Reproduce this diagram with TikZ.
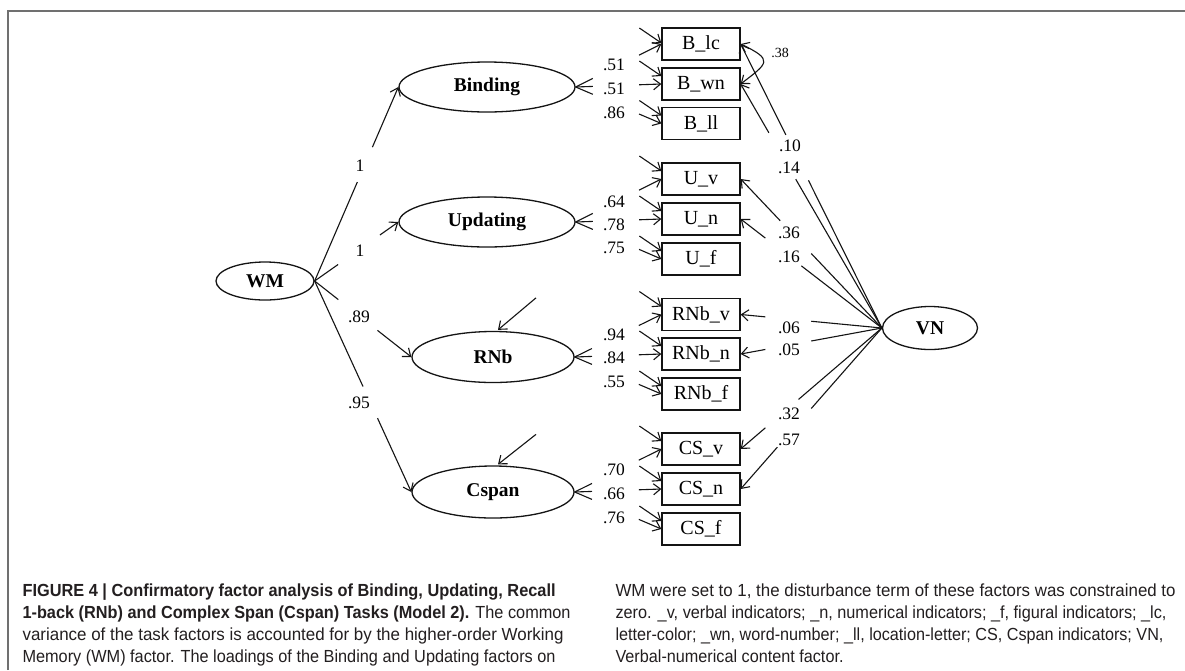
\documentclass[tikz,border=0pt]{standalone}
\usepackage{graphicx}
\usepackage{fontspec}
\setmainfont{Liberation Serif}
\newfontfamily\capfont{Liberation Sans}
\usetikzlibrary{arrows.meta,calc,shapes.geometric}
\definecolor{ink}{HTML}{141414}
\definecolor{rulegray}{HTML}{707070}
\definecolor{captxt}{HTML}{231F20}
\begin{document}
\begin{tikzpicture}[x=1pt,y=-1pt,
  line width=1.1pt, draw=ink,
  latent/.style={ellipse,draw=ink,line width=1.3pt,inner sep=0pt,
    font=\fontsize{19.5}{22}\selectfont\bfseries},
  obs/.style={rectangle,draw=ink,line width=1.3pt,minimum width=78pt,
    minimum height=32pt,inner sep=0pt,font=\fontsize{20}{24}\selectfont},
  coef/.style={inner sep=0pt,font=\fontsize{17.5}{20}\selectfont},
  smallcoef/.style={inner sep=0pt,font=\fontsize{14}{17}\selectfont},
  tip/.tip={Straight Barb[length=7pt,width=11pt,line width=1.1pt]},
  arr/.style={-tip},
  caption/.style={anchor=base west,inner sep=0pt,text=captxt,
    font=\capfont\fontsize{17.5}{22}\selectfont},
]
\useasboundingbox (0,0) rectangle (1185,670);
\fill[white] (0,0) rectangle (1185,670);
% frame rules
\draw[rulegray,line width=1.2pt] (8,670) -- (8,11) -- (1185,11);

% latent factors
\node[latent,minimum width=98pt,minimum height=38pt] (WM) at (265,281) {WM};
\node[latent,minimum width=176pt,minimum height=50pt] (Bind) at (487,87) {Binding};
\node[latent,minimum width=176pt,minimum height=50pt] (Upd) at (487,222) {Updating};
\node[latent,minimum width=162pt,minimum height=51pt] (RNb) at (493,357) {RNb};
\node[latent,minimum width=162pt,minimum height=52pt] (Csp) at (493,492) {Cspan};
\node[latent,minimum width=95pt,minimum height=43pt] (VN) at (930,328) {VN};

% observed indicators
\node[obs] (Blc) at (701,44) {B\_lc};
\node[obs] (Bwn) at (701,84) {B\_wn};
\node[obs] (Bll) at (701,123.5) {B\_ll};
\node[obs] (Uv) at (701,179) {U\_v};
\node[obs] (Un) at (701,219) {U\_n};
\node[obs] (Uf) at (701,259) {U\_f};
\node[obs] (RNbv) at (701,314.5) {RNb\_v};
\node[obs] (RNbn) at (701,354) {RNb\_n};
\node[obs] (RNbf) at (701,394) {RNb\_f};
\node[obs] (CSv) at (701,449) {CS\_v};
\node[obs] (CSn) at (701,489) {CS\_n};
\node[obs] (CSf) at (701,529) {CS\_f};

% higher-order loadings (broken around their values)
\foreach \dst/\a/\b in {Bind/0.51/0.69, Upd/0.28/0.78, RNb/0.245/0.65, Csp/0.5/0.65} {
  \draw (WM.east) -- ($(WM.east)!\a!(\dst.west)$);
  \draw[arr] ($(WM.east)!\b!(\dst.west)$) -- (\dst.west);
}
\node[coef] (wBind) at (360,166) {1};
\node[coef] (wUpd) at (360,251) {1};
\node[coef] (wRNb) at (359,317) {.89};
\node[coef] (wCsp) at (359,403) {.95};

% disturbances of RNb and Cspan
\draw[arr] ($(RNb.north)+(43,-33)$) -- ($(RNb.north)+(5,-1)$);
\draw[arr] ($(Csp.north)+(43,-31)$) -- ($(Csp.north)+(5,-1)$);

% task factor loadings
\foreach \src/\dst in {Bind/Blc,Bind/Bwn,Bind/Bll,Upd/Uv,Upd/Un,Upd/Uf,
    RNb/RNbv,RNb/RNbn,RNb/RNbf,Csp/CSv,Csp/CSn,Csp/CSf} {
  \draw (\src.east) -- ($(\src.east)!0.2!(\dst.west)$);
  \draw[arr] ($(\src.east)!0.74!(\dst.west)$) -- (\dst.west);
}
\node[coef] (lBlc) at (614,65) {.51};
\node[coef] (lBwn) at (614,89) {.51};
\node[coef] (lBll) at (614,113) {.86};
\node[coef] (lUv) at (614,202) {.64};
\node[coef] (lUn) at (614,225) {.78};
\node[coef] (lUf) at (614,248) {.75};
\node[coef] (lRNbv) at (614,335) {.94};
\node[coef] (lRNbn) at (614,358) {.84};
\node[coef] (lRNbf) at (614,382) {.55};
\node[coef] (lCSv) at (614,470) {.70};
\node[coef] (lCSn) at (614,494) {.66};
\node[coef] (lCSf) at (614,518) {.76};

% measurement errors
\draw[arr] ($(Blc.west)+(-22,-16)$) -- ($(Blc.west)+(0,-1)$);
\foreach \dst in {Bwn,Bll,Uv,Un,Uf,RNbv,RNbn,RNbf,CSv,CSn,CSf} {
  \draw[arr] ($(\dst.west)+(-22,-23)$) -- ($(\dst.west)+(0,-8)$);
}

% correlated errors of B_lc and B_wn
\draw[tip-tip] (Blc.east) .. controls (774,60) and (768,63) .. (Bwn.east);
\node[smallcoef] (cBB) at (780,53) {.38};

% content factor loadings
\foreach \dst/\a/\b in {Blc/0.32/0.48, Bwn/0.2/0.39, Uv/0.28/0.5, Un/0.175/0.43,
    RNbv/0.175/0.5, RNbn/0.175/0.5, CSv/0.175/0.41, CSn/0.26/0.5} {
  \draw[arr] ($(\dst.east)!\a!(VN.west)$) -- (\dst.east);
  \draw ($(\dst.east)!\b!(VN.west)$) -- (VN.west);
}
\node[coef] (vBlc) at (790,146) {.10};
\node[coef] (vBwn) at (789,168) {.14};
\node[coef] (vUv) at (789,233) {.36};
\node[coef] (vUn) at (789,257) {.16};
\node[coef] (vRNbv) at (789,328) {.06};
\node[coef] (vRNbn) at (789,350) {.05};
\node[coef] (vCSv) at (789,414) {.32};
\node[coef] (vCSn) at (789,440) {.57};

% caption
\node[caption] (capL1) at (22,596) {\resizebox{533pt}{\height}{{\bfseries FIGURE 4 | Confirmatory factor analysis of Binding, Updating, Recall}}};
\node[caption] (capL2) at (22,618) {\resizebox{548pt}{\height}{{\bfseries 1-back (RNb) and Complex Span (Cspan) Tasks (Model 2).} The common}};
\node[caption] (capL3) at (22,640) {\resizebox{541pt}{\height}{variance of the task factors is accounted for by the higher-order Working}};
\node[caption] (capL4) at (22,662) {\resizebox{533pt}{\height}{Memory (WM) factor. The loadings of the Binding and Updating factors on}};
\node[caption] (capR1) at (615,596) {\resizebox{560pt}{\height}{WM were set to 1, the disturbance term of these factors was constrained to}};
\node[caption] (capR2) at (615,618) {\resizebox{551pt}{\height}{zero. \_v, verbal indicators; \_n, numerical indicators; \_f, figural indicators; \_lc,}};
\node[caption] (capR3) at (615,640) {\resizebox{548pt}{\height}{letter-color; \_wn, word-number; \_ll, location-letter; CS, Cspan indicators; VN,}};
\node[caption] (capR4) at (615,662) {\resizebox{228pt}{\height}{Verbal-numerical content factor.}};
\end{tikzpicture}
\end{document}
